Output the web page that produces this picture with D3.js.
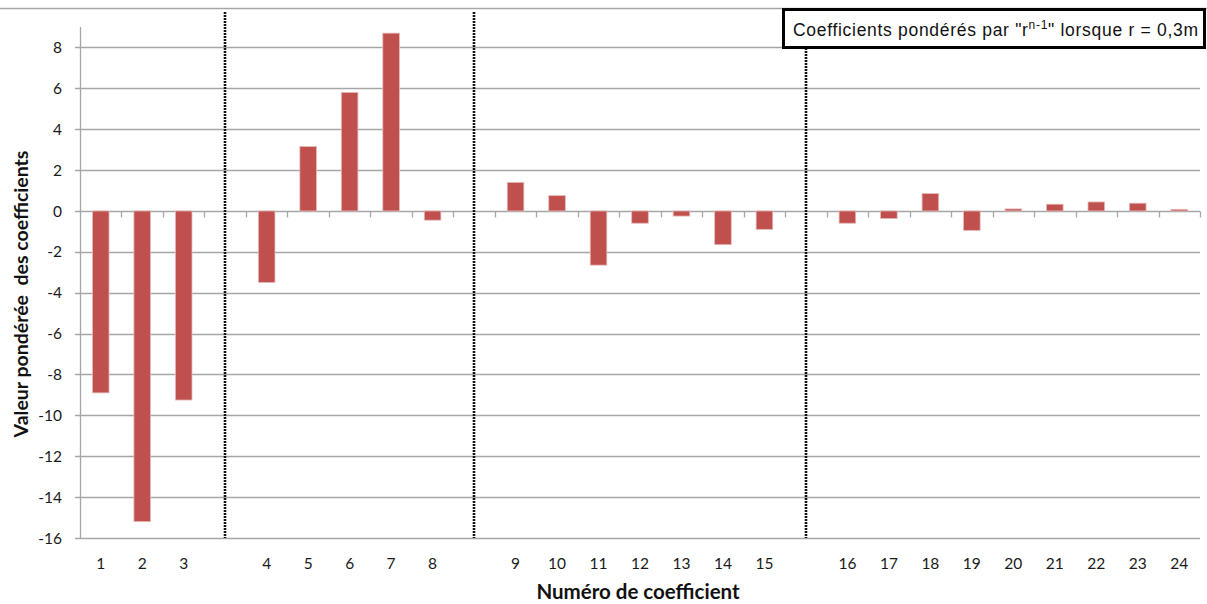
<!DOCTYPE html>
<html><head><meta charset="utf-8">
<script src="https://cdn.jsdelivr.net/npm/d3@7"></script>
<style>body{margin:0;background:#fff}svg{display:block}</style>
</head><body><svg id="c" width="1207" height="604"></svg>
<script>
const categories = ["1","2","3","","4","5","6","7","8","","9","10","11","12","13","14","15","","16","17","18","19","20","21","22","23","24"];
const values = [-8.9,-15.2,-9.25,null,-3.5,3.15,5.8,8.7,-0.45,null,1.4,0.75,-2.65,-0.6,-0.25,-1.65,-0.9,null,-0.6,-0.37,0.85,-0.95,0.1,0.33,0.44,0.38,0.08];
const yTicks = [-16,-14,-12,-10,-8,-6,-4,-2,0,2,4,6,8];
const yTitle = "Valeur pondérée  des coefficients";
const xTitle = "Numéro de coefficient";

const svg = d3.select("#c");
const pLeft = 80, pRight = 1200, pTop = 27, pBottom = 538;
const x = d3.scaleBand().domain(d3.range(categories.length)).range([pLeft, pRight]);
const y = d3.scaleLinear().domain([-16, 9]).range([pBottom, pTop]);
const bw = x.bandwidth();
const lab = "Lato, 'Open Sans', sans-serif";

// top frame line
svg.append("line").attr("x1",0).attr("x2",1207).attr("y1",8.5).attr("y2",8.5).attr("stroke","#a6a6a6").attr("stroke-width",1.5);

// gridlines
svg.append("g").selectAll("line").data(yTicks).join("line")
  .attr("x1", pLeft-5).attr("x2", pRight)
  .attr("y1", d=>Math.round(y(d))+0.5).attr("y2", d=>Math.round(y(d))+0.5)
  .attr("stroke","#a6a6a6").attr("stroke-width",1.3);

// y axis line
svg.append("line").attr("x1",pLeft+0.5).attr("x2",pLeft+0.5).attr("y1",pTop).attr("y2",pBottom)
  .attr("stroke","#a6a6a6").attr("stroke-width",1.3);

// y tick labels
svg.append("g").selectAll("text").data(yTicks).join("text")
  .attr("x", 62).attr("y", d=>y(d)).attr("dy","0.36em").attr("text-anchor","end")
  .attr("font-family",lab).attr("font-size",15.5).attr("fill","#1a1a1a")
  .text(d=>d);

// category ticks at zero line
const y0 = Math.round(y(0))+0.5;
svg.append("g").selectAll("line").data(d3.range(1, categories.length+1)).join("line")
  .attr("x1", k=>Math.round(pLeft + k*bw)+0.5).attr("x2", k=>Math.round(pLeft + k*bw)+0.5)
  .attr("y1", y0).attr("y2", y0+6).attr("stroke","#a6a6a6").attr("stroke-width",1.3);

// separators at blank categories
const seps = categories.map((c,i)=>c===""?i:null).filter(v=>v!==null);
svg.append("g").selectAll("line").data(seps).join("line")
  .attr("x1", i=>Math.round(x(i)+bw/2)).attr("x2", i=>Math.round(x(i)+bw/2))
  .attr("y1", 12).attr("y2", pBottom)
  .attr("stroke","#111").attr("stroke-width",2.6).attr("stroke-dasharray","2,1");

// bars
const barW = bw*0.4;
const data = values.map((v,i)=>({i,v})).filter(d=>d.v!==null);
svg.append("g").selectAll("rect").data(data).join("rect")
  .attr("x", d=>x(d.i)+bw/2-barW/2).attr("width", barW)
  .attr("y", d=>y(Math.max(0,d.v))).attr("height", d=>Math.abs(y(d.v)-y(0)))
  .attr("fill","#c0504d").attr("stroke","#e6b9b8").attr("stroke-width",0.8);

// x labels
svg.append("g").selectAll("text").data(categories.map((c,i)=>({c,i})).filter(d=>d.c!=="")).join("text")
  .attr("x", d=>x(d.i)+bw/2).attr("y", 569).attr("text-anchor","middle")
  .attr("font-family",lab).attr("font-size",15.5).attr("fill","#1a1a1a")
  .text(d=>d.c);

// axis titles
svg.append("text").attr("x", 638).attr("y", 599).attr("text-anchor","middle")
  .attr("font-family",lab).attr("font-weight","bold").attr("font-size",20.5).attr("fill","#111")
  .text(xTitle);
svg.append("text").attr("transform","translate(28,294) rotate(-90)").attr("text-anchor","middle")
  .attr("font-family",lab).attr("font-weight","bold").attr("font-size",19.5).attr("fill","#111")
  .attr("xml:space","preserve").style("white-space","pre")
  .text(yTitle);

// legend box
svg.append("rect").attr("x",783.5).attr("y",9.5).attr("width",421).attr("height",38)
  .attr("fill","#fff").attr("stroke","#000").attr("stroke-width",3);
const lt = svg.append("text").attr("x",793).attr("y",35.5)
  .attr("font-family","'Liberation Sans', Arial, sans-serif").attr("font-size",17.5)
  .attr("letter-spacing",0.7).attr("fill","#111");
lt.append("tspan").text("Coefficients pondérés par \"r");
lt.append("tspan").attr("font-size",12).attr("dy",-7).text("n-1");
lt.append("tspan").attr("dy",7).text("\" lorsque r = 0,3m");
</script></body></html>
